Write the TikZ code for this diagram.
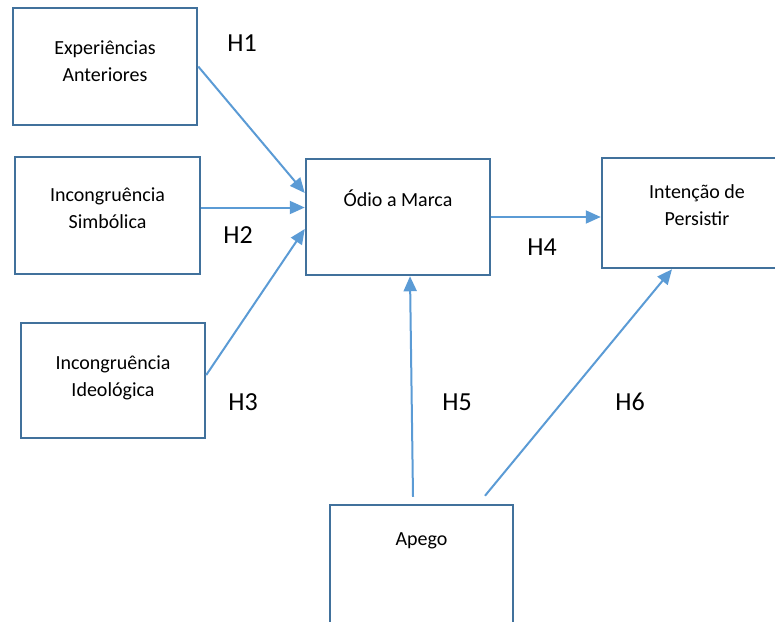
\documentclass[tikz,border=0pt]{standalone}
\usepackage{fontspec}
\setmainfont{Carlito}
\usepackage{tikz}
\usetikzlibrary{arrows.meta}
\usetikzlibrary{positioning}

\definecolor{boxline}{RGB}{65,113,156}
\definecolor{arrowline}{RGB}{91,155,213}

\begin{document}
\begin{tikzpicture}[x=1pt,y=-1pt,every node/.style={align=center},
  var/.style={draw=boxline,line width=2.5pt,minimum width=184pt,
    minimum height=117pt,inner sep=0pt,text height=14pt,
    font=\fontsize{20}{27}\selectfont},
  twoline/.style={text height=41pt},
  hyp/.style={draw=arrowline,line width=2pt,
    -{Triangle[length=15pt,width=13pt]}},
  hlabel/.style={font=\fontsize{26}{30}\selectfont}]

  \clip (0,0) rectangle (775,621);

  % constructs
  \node[var,twoline,text depth=11.2pt] (exper) at (105,66.5)
    {Experiências\\Anteriores};
  \node[var,twoline,minimum width=185pt,text depth=15.2pt] (simb) at (107.5,215.5)
    {Incongruência\\Simbólica};
  \node[var,twoline,minimum height=115pt,text depth=8.2pt] (ideol) at (113,380.5)
    {Incongruência\\Ideológica};
  \node[var,minimum height=116pt,text depth=35.2pt] (odio) at (398,217)
    {Ódio a Marca};
  \node[var,twoline,minimum width=190pt,minimum height=110pt,text depth=15.2pt]
    (intent) at (697,213) {Intenção de\\Persistir};
  \node[var,minimum width=183pt,minimum height=118pt,text depth=51.2pt]
    (apego) at (421.5,564) {Apego};

  % hypotheses
  \draw[hyp] (exper.east) -- ([yshift=24pt]odio.west);
  \draw[hyp] ([yshift=8pt]simb.east) -- ([yshift=8pt]simb.east -| odio.west);
  \draw[hyp] ([yshift=5.5pt]ideol.east) -- ([yshift=-12pt]odio.west);
  \draw[hyp] (odio.east) -- (odio.east -| intent.west);
  \draw[hyp] ([xshift=-8.5pt,yshift=7pt]apego.north) -- ([xshift=12pt]odio.south);
  \draw[hyp] ([xshift=63.5pt,yshift=8pt]apego.north) -- ([xshift=-25pt]intent.south);

  \node[hlabel] (h1) at (242,43) {H1};
  \node[hlabel] (h2) at (238,235) {H2};
  \node[hlabel] (h3) at (243,402) {H3};
  \node[hlabel] (h4) at (542,247) {H4};
  \node[hlabel] (h5) at (457,402) {H5};
  \node[hlabel] (h6) at (630,402) {H6};
\end{tikzpicture}
\end{document}
